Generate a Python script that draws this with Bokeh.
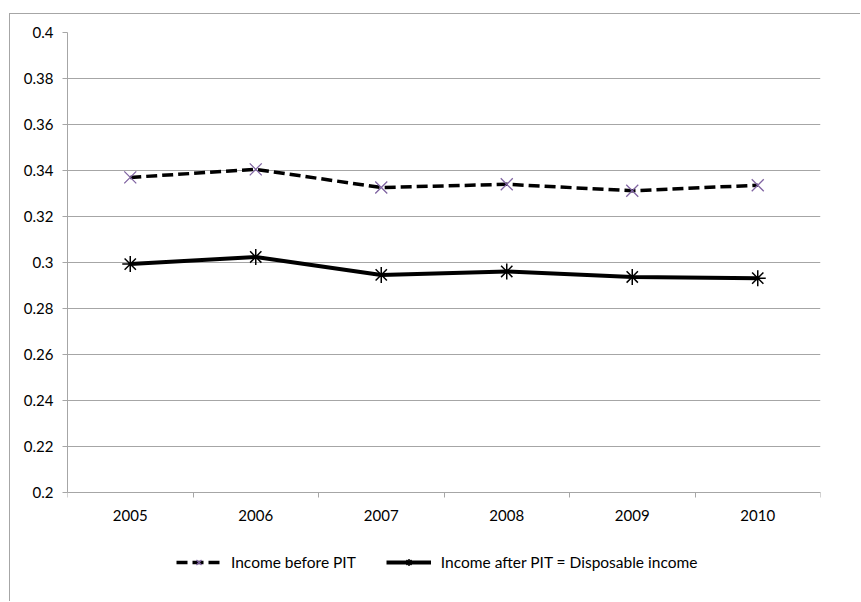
from bokeh.plotting import figure
from bokeh.models import (Range1d, FixedTicker, CustomJSTickFormatter,
                          Legend, LegendItem)
from bokeh.embed import file_html
from bokeh.resources import INLINE

# Data: income inequality (Gini) before and after personal income tax
years = ["2005", "2006", "2007", "2008", "2009", "2010"]
before_pit = [0.3370, 0.3405, 0.3326, 0.3340, 0.3312, 0.3336]
after_pit = [0.2993, 0.3024, 0.2946, 0.2961, 0.2937, 0.2932]
y_ticks = [0.2, 0.22, 0.24, 0.26, 0.28, 0.3, 0.32, 0.34, 0.36, 0.38, 0.4]
y_lo, y_hi = 0.2, 0.4

FONT = "Lato"
GRID = "#a6a6a6"

W, H = 851, 588
TOP, LEFT, RIGHT, BOTTOM = 18, 57, 41, 30
AXIS_PX = 460          # pixel height of the 0.2 .. 0.4 value band
# the frame runs on below the 0.2 line so that the legend sits inside it
frame_px = H - TOP - BOTTOM
y_start = y_hi - (y_hi - y_lo) * frame_px / AXIS_PX

# categories sit in the middle of each unit slot
x_pos = [i + 0.5 for i in range(len(years))]
x_bounds = list(range(len(years) + 1))

p = figure(
    width=W, height=H,
    x_range=Range1d(0, len(years)), y_range=Range1d(y_start, y_hi),
    output_backend="svg", toolbar_location=None,
    min_border_left=LEFT, min_border_right=RIGHT,
    min_border_top=TOP, min_border_bottom=BOTTOM,
    margin=(13, 0, 0, 9),
    styles={"border-left": f"1px solid {GRID}", "border-top": f"1px solid {GRID}"},
)
p.outline_line_color = None
p.background_fill_color = "white"
p.border_fill_color = "white"

# y axis
p.yaxis.ticker = FixedTicker(ticks=y_ticks)
p.yaxis.bounds = (y_lo, y_hi)
p.yaxis.formatter = CustomJSTickFormatter(code="return String(parseFloat(tick.toFixed(2)))")
p.yaxis.axis_line_color = GRID
p.yaxis.major_tick_line_color = GRID
p.yaxis.major_tick_out = 5
p.yaxis.major_tick_in = 0
p.yaxis.minor_tick_line_color = None
p.yaxis.major_label_standoff = 9
p.yaxis.major_label_text_font = FONT
p.yaxis.major_label_text_font_size = "15px"
p.yaxis.major_label_text_color = "black"

# x axis on the 0.2 line: labels at category centres, tick marks at boundaries
p.xaxis.fixed_location = y_lo
p.xaxis.ticker = FixedTicker(ticks=x_pos, minor_ticks=x_bounds)
p.xaxis.formatter = CustomJSTickFormatter(args=dict(labels=years),
                                          code="return labels[Math.floor(tick)] || ''")
p.xaxis.axis_line_color = GRID
p.xaxis.major_tick_line_color = None
p.xaxis.major_tick_out = 0
p.xaxis.major_tick_in = 0
p.xaxis.minor_tick_line_color = GRID
p.xaxis.minor_tick_out = 5
p.xaxis.minor_tick_in = 0
p.xaxis.major_label_standoff = 12
p.xaxis.major_label_text_font = FONT
p.xaxis.major_label_text_font_size = "15px"
p.xaxis.major_label_text_color = "black"

p.xgrid.grid_line_color = None
p.ygrid.ticker = FixedTicker(ticks=y_ticks)
p.ygrid.grid_line_color = GRID
p.ygrid.grid_line_width = 1

# series
l1 = p.line(x_pos, before_pit, line_color="black", line_width=3.5, line_dash="11 5")
m1 = p.scatter(x_pos, before_pit, marker="x", size=17, line_color="#8064a2", line_width=1.3)
l2 = p.line(x_pos, after_pit, line_color="black", line_width=4)
m2 = p.scatter(x_pos, after_pit, marker="asterisk", size=16, line_color="black", line_width=1.5)

legend = Legend(
    items=[
        LegendItem(label="Income before PIT", renderers=[l1, m1]),
        LegendItem(label="Income after PIT = Disposable income", renderers=[l2, m2]),
    ],
    orientation="horizontal",
    location=(109, 1),
    glyph_width=45, glyph_height=18, label_height=18,
    label_standoff=10, spacing=30, padding=0, margin=0,
    border_line_color=None, background_fill_alpha=0,
    label_text_font=FONT, label_text_font_size="15.5px", label_text_color="black",
)
p.add_layout(legend, "center")

open("out.html", "w").write(file_html(p, INLINE))
